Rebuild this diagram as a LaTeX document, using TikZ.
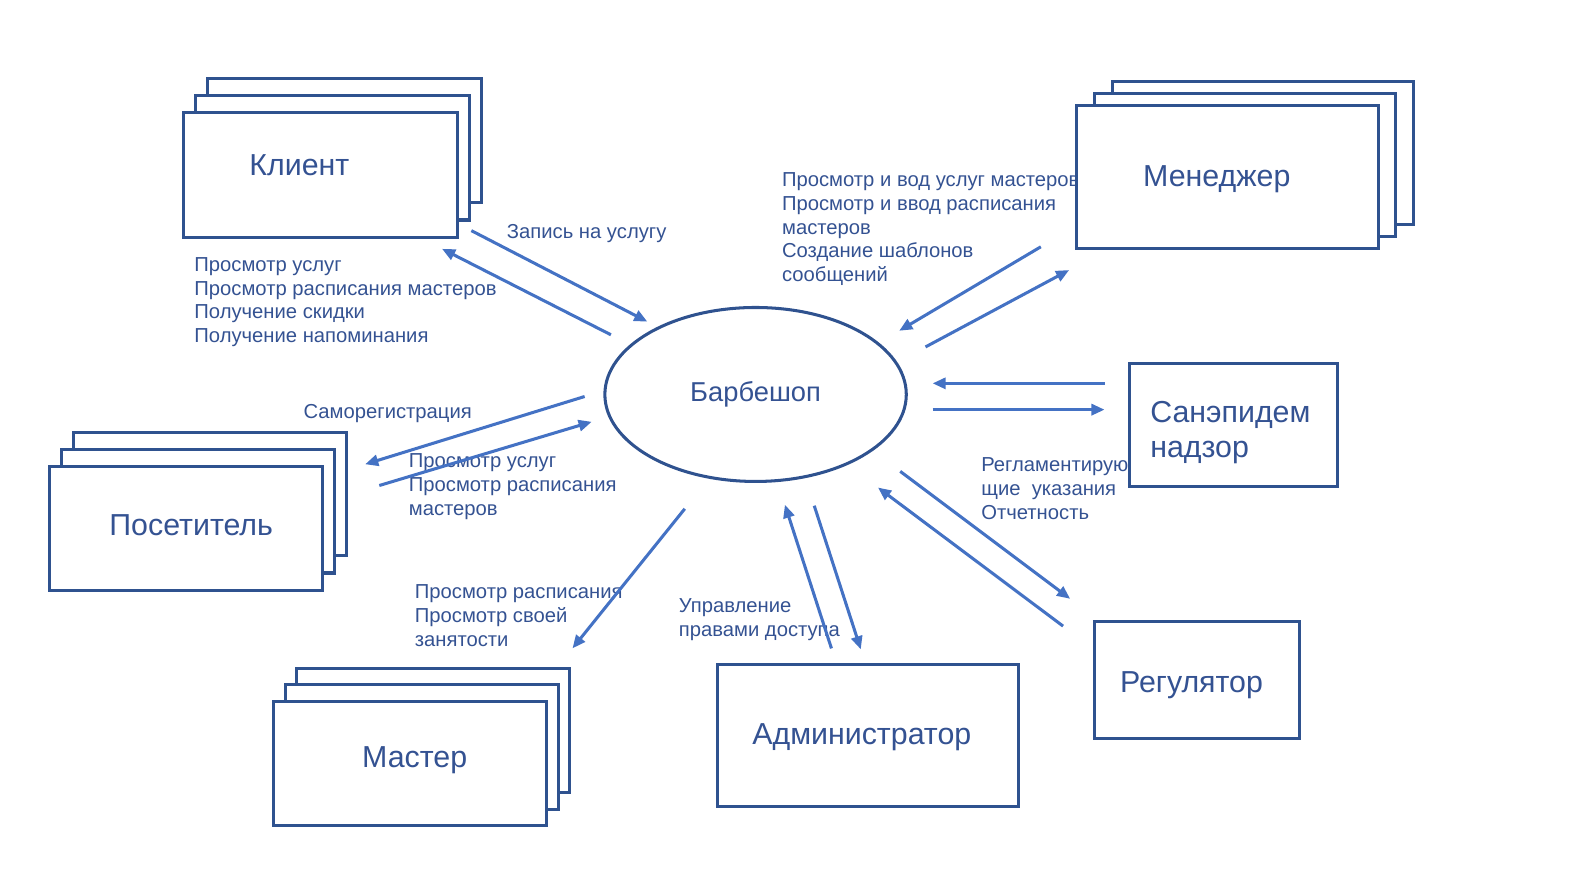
\documentclass[tikz,border=0pt]{standalone}
\usepackage{fontspec}
\setmainfont{Liberation Sans}
\usetikzlibrary{arrows.meta,shapes.geometric}
\definecolor{boxblue}{RGB}{47,82,143}
\definecolor{arrblue}{RGB}{68,114,196}
\definecolor{txtblue}{RGB}{52,82,146}

\begin{document}
\begin{tikzpicture}
[x=1pt,y=-1pt,
 boxdecorate/.style={draw=boxblue,line width=3pt,fill=white,inner sep=0pt,anchor=north west},
 linedecorate/.style={draw=arrblue,line width=3pt,-{Triangle[length=13pt,width=11pt]}},
 bigtext/.style={text=txtblue,font=\fontsize{30}{34}\selectfont,inner sep=0pt,text height=21.5pt,text depth=0pt},
 smalltext/.style={text=txtblue,font=\fontsize{20}{23.7}\selectfont,align=left,anchor=north west,inner sep=0pt}]
\useasboundingbox (0,0) rectangle (1568,882);
%% labels of the flows
\node[smalltext] (klient-l) at (192,254) {Просмотр услуг\\Просмотр расписания мастеров\\Получение скидки\\Получение напоминания};
\node[smalltext] (zapis-l) at (501,222) {Запись на услугу};
\node[smalltext] (menedzher-l) at (773,170) {Просмотр и вод услуг мастеров\\Просмотр и ввод расписания\\мастеров\\Создание шаблонов\\сообщений};
\node[smalltext] (samoreg-l) at (300,400) {Саморегистрация};
\node[smalltext] (posetitel-l) at (404,448) {Просмотр услуг\\Просмотр расписания\\мастеров};
\node[smalltext] (master-l) at (410,578) {Просмотр расписания\\Просмотр своей\\занятости};
\node[smalltext] (admin-l) at (671,592) {Управление\\правами доступа};
\node[smalltext] (regulator-l) at (970,452) {Регламентирую\\щие\ \ указания\\Отчетность};
%% ends of the arrows
\foreach \nodename/\x/\y in {k1/466/228, k2/640/318, k3/604/331, k4/437/246,
  m1/1029/244, m2/889/327, m3/915/343, m4/1057/267,
  s1/1092/379, s2/922/379, s3/922/405, s4/1092/405,
  r1/890/466, r2/1058/592, r3/1051/619, r4/868/482,
  a1/822/641, a2/776/499, a3/805/500, a4/851/642,
  ms1/677/503, ms2/566/641,
  p1/578/392, p2/361/459, p3/375/480, p4/585/417}
{
  \coordinate (\nodename) at (\x,\y);
}
\foreach \startnode/\endnode in {k1/k2, k3/k4, m1/m2, m3/m4, s1/s2, s3/s4,
  r1/r2, r3/r4, a1/a2, a3/a4, ms1/ms2, p1/p2, p3/p4}
{
  \draw[linedecorate] (\startnode) -- (\endnode);
}
%% stacked boxes
\foreach \boxname/\x/\y/\w/\h/\dx/\dy in {klient/180/110/271/123/12/17,
  posetitel/47/460/270/122/12/17, master/269/692/270/123/11.5/16.5,
  menedzher/1063/103/298/141/17.5/12}
{
  \foreach \i in {2,1,0}
    \node[boxdecorate,minimum width=\w,minimum height=\h] (\boxname-\i) at (\x+\i*\dx,\y-\i*\dy) {};
}
%% single boxes
\node[boxdecorate,minimum width=206,minimum height=121] (sanepid) at (1115,358) {};
\node[boxdecorate,minimum width=202,minimum height=116] (regulator) at (1081,613) {};
\node[boxdecorate,minimum width=297,minimum height=141] (admin) at (708,655) {};
\node[ellipse,draw=boxblue,line width=3pt,minimum width=298,minimum height=172,
  text=txtblue,font=\fontsize{27}{30}\selectfont] (barbershop) at (747,390) {Барбешоп};
%% names
\node[bigtext] (klient-t) at (296,163) {Клиент};
\node[bigtext] (posetitel-t) at (189,519) {Посетитель};
\node[bigtext] (master-t) at (410,748) {Мастер};
\node[bigtext] (menedzher-t) at (1203,174) {Менеджер};
\node[bigtext] (admin-t) at (852,725) {Администратор};
\node[bigtext] (regulator-t) at (1178,674) {Регулятор};
\node[bigtext,align=left,anchor=north west,text height=,text depth=] (sanepid-t) at (1137,397) {Санэпидем\\надзор};
\end{tikzpicture}
\end{document}
